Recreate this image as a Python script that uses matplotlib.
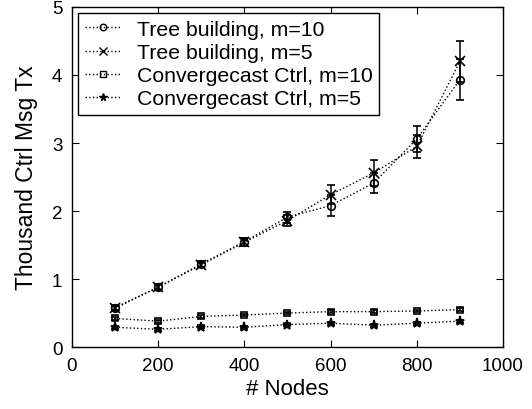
import matplotlib
matplotlib.use("Agg")
import matplotlib.pyplot as plt
from matplotlib.lines import Line2D

plt.rcParams['font.family'] = ['Liberation Sans', 'DejaVu Sans']

nodes = [100, 200, 300, 400, 500, 600, 700, 800, 900]

tree_m10 = [0.58, 0.88, 1.22, 1.55, 1.91, 2.08, 2.41, 3.06, 3.93]
tree_m10_err = [0.04, 0.04, 0.04, 0.06, 0.08, 0.15, 0.15, 0.19, 0.30]
tree_m5 = [0.57, 0.88, 1.21, 1.54, 1.86, 2.24, 2.56, 2.95, 4.20]
tree_m5_err = [0.04, 0.04, 0.04, 0.06, 0.08, 0.14, 0.19, 0.17, 0.30]
ctrl_m10 = [0.42, 0.38, 0.45, 0.47, 0.50, 0.52, 0.52, 0.53, 0.55]
ctrl_m10_err = [0.02] * 9
ctrl_m5 = [0.29, 0.26, 0.30, 0.29, 0.33, 0.35, 0.32, 0.35, 0.38]
ctrl_m5_err = [0.02] * 9

labels = ["Tree building, m=10", "Tree building, m=5",
          "Convergecast Ctrl, m=10", "Convergecast Ctrl, m=5"]

fig = plt.figure(figsize=(5.32, 4.10), dpi=100)
ax = fig.add_axes([0.1353, 0.1512, 0.8102, 0.8293])

series = [
    (tree_m10, tree_m10_err, 'o', 5.5, 'none'),
    (tree_m5, tree_m5_err, 'x', 6.5, 'black'),
    (ctrl_m10, ctrl_m10_err, 's', 5, 'none'),
    (ctrl_m5, ctrl_m5_err, '*', 6.5, 'black'),
]
handles = []
for (y, e, m, ms, fc), lab in zip(series, labels):
    ax.errorbar(nodes, y, yerr=e, fmt=m, linestyle=':', color='black',
                markerfacecolor=fc, markeredgecolor='black', markersize=ms,
                markeredgewidth=1.2, linewidth=1.0, elinewidth=1.1,
                capsize=3, capthick=1.1)
    handles.append(Line2D([], [], linestyle=':', color='black', marker=m,
                          markersize=ms * 0.85, markerfacecolor=fc,
                          markeredgecolor='black', markeredgewidth=1.0,
                          linewidth=1.0, label=lab))

ax.set_xlim(0, 1000)
ax.set_ylim(0, 5)
ax.set_xticks([0, 200, 400, 600, 800, 1000])
ax.set_yticks([0, 1, 2, 3, 4, 5])
ax.tick_params(direction='in', top=True, right=True, labelsize=13.5,
               length=5, width=0.8, pad=7)
for s in ax.spines.values():
    s.set_linewidth(1.0)

ax.set_xlabel("# Nodes", fontsize=16, labelpad=3)
ax.set_ylabel("Thousand Ctrl Msg Tx", fontsize=16.5, labelpad=10)

leg = ax.legend(handles=handles, loc='upper left', fontsize=15.3,
                frameon=True, fancybox=False, edgecolor='black',
                framealpha=1, borderpad=0.3, labelspacing=0.2,
                handlelength=1.7, handletextpad=0.75, borderaxespad=0.3)
leg.get_frame().set_linewidth(1.0)

fig.savefig("out.png", dpi=100)
